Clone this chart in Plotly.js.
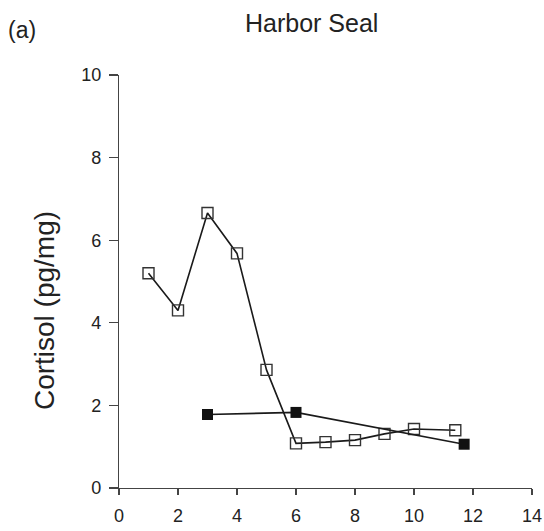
<!DOCTYPE html>
<html><head><meta charset="utf-8">
<script src="https://cdn.plot.ly/plotly-3.0.1.min.js"></script>
<style>html,body{margin:0;padding:0;background:#fff;}</style>
</head><body>
<div id="chart" style="width:544px;height:531px;"></div>
<script>
const openX = [1, 2, 3, 4, 5, 6, 7, 8, 9, 10, 11.4];
const openY = [5.2, 4.3, 6.66, 5.68, 2.86, 1.08, 1.11, 1.16, 1.31, 1.43, 1.40];
const filledX = [3, 6, 11.7];
const filledY = [1.78, 1.83, 1.06];
const xTicks = [0, 2, 4, 6, 8, 10, 12, 14];
const yTicks = [0, 2, 4, 6, 8, 10];

const traces = [
  {x: openX, y: openY, mode: 'lines+markers', type: 'scatter',
   line: {color: '#1a1a1a', width: 1.6},
   marker: {symbol: 'square-open', size: 11, color: '#333', line: {width: 1.4}}},
  {x: filledX, y: filledY, mode: 'lines+markers', type: 'scatter',
   line: {color: '#1a1a1a', width: 1.6},
   marker: {symbol: 'square', size: 11, color: '#111'}}
];
const font = {family: 'Liberation Sans, Arial, sans-serif', color: '#222'};
const layout = {
  width: 544, height: 531,
  margin: {l: 119, r: 12, t: 75, b: 43},
  showlegend: false,
  paper_bgcolor: '#fff', plot_bgcolor: '#fff',
  font: font,
  title: {text: 'Harbor Seal', x: 0.573, xanchor: 'center', y: 0.957, yanchor: 'middle',
          font: {family: font.family, size: 25, color: '#222'}},
  xaxis: {range: [0, 14], tickvals: xTicks, ticktext: xTicks.map(String),
          showgrid: false, zeroline: false, showline: true, linecolor: '#444', linewidth: 1.2,
          ticks: 'outside', ticklen: 6, tickcolor: '#444', tickwidth: 1.2,
          ticklabelstandoff: 5,
          tickfont: {size: 18, color: '#222'}},
  yaxis: {range: [0, 10], tickvals: yTicks, ticktext: yTicks.map(String),
          showgrid: false, zeroline: false, showline: true, linecolor: '#444', linewidth: 1.2,
          ticks: 'outside', ticklen: 9, tickcolor: '#444', tickwidth: 1.2,
          ticklabelstandoff: 4,
          tickfont: {size: 18, color: '#222'}},
  annotations: [
    {text: '(a)', xref: 'paper', yref: 'paper', x: -0.274, y: 1.11,
     xanchor: 'left', yanchor: 'middle', showarrow: false,
     font: {size: 23, color: '#222', family: font.family}},
    {text: 'Cortisol (pg/mg)', xref: 'paper', yref: 'paper', x: -0.18, y: 0.43,
     xanchor: 'center', yanchor: 'middle', textangle: -90, showarrow: false,
     font: {size: 28, color: '#222', family: font.family}}
  ]
};
Plotly.newPlot('chart', traces, layout, {displayModeBar: false, staticPlot: true});
</script>
</body></html>
